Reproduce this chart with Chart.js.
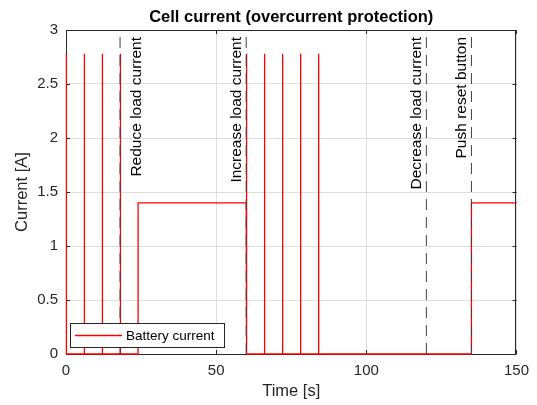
<!DOCTYPE html>
<html lang="en">
<head>
    <meta charset="UTF-8">
    <title>Cell current (overcurrent protection)</title>
    <script src="https://cdn.jsdelivr.net/npm/chart.js"></script>
    <style>
        body { margin: 0; background: #fff; }
        canvas { display: block; }
    </style>
</head>
<body>
    <canvas id="myChart" width="537" height="405"></canvas>

    <script>
        // Battery current samples (time in s, current in A)
        const timeData = [0, 0, 0.2, 0.2, 6, 6, 6.2, 6.2, 12, 12, 12.2, 12.2, 18, 18, 18.2, 18.2,
            24, 24, 60, 60, 60.2, 60.2, 66, 66, 66.2, 66.2, 72, 72, 72.2, 72.2,
            78, 78, 78.2, 78.2, 84, 84, 84.2, 84.2, 135, 135, 150];
        const currentData = [0, 2.78, 2.78, 0, 0, 2.78, 2.78, 0, 0, 2.78, 2.78, 0, 0, 2.78, 2.78, 0,
            0, 1.4, 1.4, 2.78, 2.78, 0, 0, 2.78, 2.78, 0, 0, 2.78, 2.78, 0,
            0, 2.78, 2.78, 0, 0, 2.78, 2.78, 0, 0, 1.4, 1.4];

        // Event markers (dashed vertical lines)
        const eventTimes = [18, 60, 120, 135];
        const eventLabels = ['Reduce load current', 'Increase load current', 'Decrease load current', 'Push reset button'];
        const eventSides = ['right', 'left', 'left', 'left'];

        const xTicks = [0, 50, 100, 150];
        const yTicks = [0, 0.5, 1, 1.5, 2, 2.5, 3];

        const FONT = '"Liberation Sans", Arial, Helvetica, sans-serif';
        const AXIS = '#262626';

        const datasets = eventTimes.map(t => ({
            label: 'event',
            data: [{ x: t, y: 0 }, { x: t, y: 3 }],
            borderColor: '#404040',
            borderWidth: 1,
            borderDash: [11, 7],
            pointRadius: 0
        }));
        datasets.push({
            label: 'Battery current',
            data: timeData.map((t, i) => ({ x: t, y: currentData[i] })),
            borderColor: '#ff0000',
            borderWidth: 1.3,
            pointRadius: 0,
            tension: 0,
            clip: 2
        });

        // Box and inner ticks, drawn under the data like in MATLAB
        const axesBox = {
            id: 'axesBox',
            beforeDatasetsDraw(chart) {
                const ctx = chart.ctx;
                const a = chart.chartArea;
                const xs = chart.scales.x, ys = chart.scales.y;
                ctx.save();
                ctx.strokeStyle = AXIS;
                ctx.lineWidth = 1;
                ctx.strokeRect(Math.round(a.left) + 0.5, Math.round(a.top) + 0.5,
                    Math.round(a.right - a.left) - 1, Math.round(a.bottom - a.top));
                ctx.beginPath();
                xTicks.forEach(v => {
                    const p = Math.round(xs.getPixelForValue(v)) + 0.5;
                    ctx.moveTo(p, a.bottom); ctx.lineTo(p, a.bottom - 4);
                    ctx.moveTo(p, a.top); ctx.lineTo(p, a.top + 4);
                });
                yTicks.forEach(v => {
                    const p = Math.round(ys.getPixelForValue(v)) + 0.5;
                    ctx.moveTo(a.left, p); ctx.lineTo(a.left + 4, p);
                    ctx.moveTo(a.right, p); ctx.lineTo(a.right - 4, p);
                });
                ctx.stroke();
                ctx.restore();
            }
        };

        // Titles, event labels and legend
        const decorations = {
            id: 'decorations',
            afterDatasetsDraw(chart) {
                const ctx = chart.ctx;
                const a = chart.chartArea;
                const xs = chart.scales.x;
                ctx.save();

                ctx.fillStyle = '#000';
                ctx.font = '15.5px ' + FONT;
                ctx.textAlign = 'right';
                ctx.textBaseline = 'alphabetic';
                eventTimes.forEach((t, i) => {
                    const px = xs.getPixelForValue(t);
                    const bx = eventSides[i] === 'right' ? px + 21 : px - 5;
                    ctx.save();
                    ctx.translate(bx, a.top);
                    ctx.rotate(-Math.PI / 2);
                    ctx.fillText(eventLabels[i], -7, 0);
                    ctx.restore();
                });

                const cx = (a.left + a.right) / 2;
                ctx.fillStyle = '#000';
                ctx.font = 'bold 16.5px ' + FONT;
                ctx.textAlign = 'center';
                ctx.fillText('Cell current (overcurrent protection)', cx, 22);

                ctx.fillStyle = AXIS;
                ctx.font = '16.5px ' + FONT;
                ctx.textBaseline = 'middle';
                ctx.fillText('Time [s]', cx, 391);
                ctx.save();
                ctx.translate(22, (a.top + a.bottom) / 2);
                ctx.rotate(-Math.PI / 2);
                ctx.fillText('Current [A]', 0, 0);
                ctx.restore();

                const lx = 70, ly = 323, lw = 154, lh = 24;
                ctx.fillStyle = '#fff';
                ctx.fillRect(lx, ly, lw, lh);
                ctx.strokeStyle = AXIS;
                ctx.lineWidth = 1;
                ctx.strokeRect(lx + 0.5, ly + 0.5, lw, lh);
                ctx.strokeStyle = '#ff0000';
                ctx.lineWidth = 1.3;
                ctx.beginPath();
                ctx.moveTo(lx + 5, ly + 12.5);
                ctx.lineTo(lx + 52, ly + 12.5);
                ctx.stroke();
                ctx.fillStyle = '#000';
                ctx.font = '13.5px ' + FONT;
                ctx.textAlign = 'left';
                ctx.fillText('Battery current', lx + 56, ly + 13);

                ctx.restore();
            }
        };

        new Chart(document.getElementById('myChart'), {
            type: 'line',
            data: { datasets: datasets },
            options: {
                responsive: false,
                animation: false,
                devicePixelRatio: 1,
                layout: { padding: { top: 30, right: 20, left: 0, bottom: 0 } },
                plugins: {
                    legend: { display: false },
                    tooltip: { enabled: false },
                    title: { display: false }
                },
                scales: {
                    x: {
                        type: 'linear',
                        min: 0,
                        max: 150,
                        afterFit: s => { s.height = 51; },
                        afterBuildTicks: s => { s.ticks = xTicks.map(v => ({ value: v })); },
                        border: { display: false },
                        grid: { color: '#dedede', drawTicks: false },
                        ticks: { color: AXIS, font: { family: FONT, size: 15 }, padding: 8, maxRotation: 0,
                            callback: v => String(v) }
                    },
                    y: {
                        type: 'linear',
                        min: 0,
                        max: 3,
                        afterFit: s => { s.width = 66; },
                        afterBuildTicks: s => { s.ticks = yTicks.map(v => ({ value: v })); },
                        border: { display: false },
                        grid: { color: '#dedede', drawTicks: false },
                        ticks: { color: AXIS, font: { family: FONT, size: 15 }, padding: 8,
                            callback: v => String(v) }
                    }
                }
            },
            plugins: [axesBox, decorations]
        });
    </script>
</body>
</html>
